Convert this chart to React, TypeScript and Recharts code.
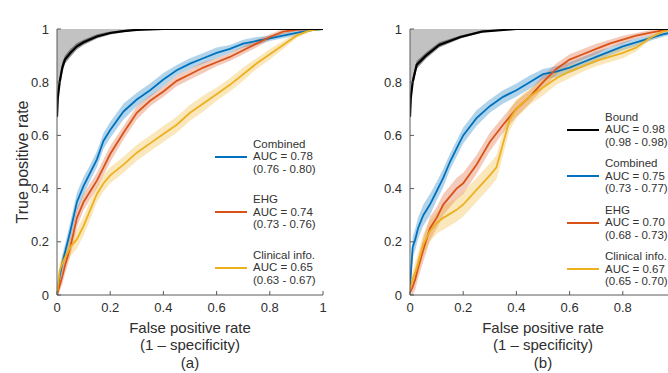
import { ComposedChart, Line, Area, XAxis, YAxis } from 'recharts';

const ticks = [0, 0.2, 0.4, 0.6, 0.8, 1];
const axisColor = '#5a5a5a';
const textColor = '#2e2e2e';
const blue = '#0072BD';
const orange = '#D95319';
const yellow = '#EDB120';
const sans = '"Liberation Sans", Arial, Helvetica, sans-serif';
const narrow = '"Liberation Sans Narrow", "Arial Narrow", "Liberation Sans", sans-serif';

// (a) classification models
const clsFpr = [0, 0.01, 0.02, 0.03, 0.05, 0.075, 0.1, 0.125, 0.15, 0.175, 0.2, 0.25, 0.3, 0.35, 0.4, 0.45, 0.5, 0.55, 0.6, 0.65, 0.7, 0.75, 0.8, 0.85, 0.9, 0.95, 1];
const clsCombined = [0, 0.07, 0.12, 0.16, 0.24, 0.35, 0.41, 0.46, 0.51, 0.58, 0.62, 0.69, 0.735, 0.77, 0.81, 0.845, 0.87, 0.89, 0.91, 0.925, 0.945, 0.955, 0.965, 0.975, 0.985, 0.995, 1];
const clsCombinedCi = [0.01, 0.02, 0.03, 0.03, 0.035, 0.035, 0.035, 0.03, 0.03, 0.03, 0.03, 0.03, 0.025, 0.025, 0.025, 0.02, 0.02, 0.02, 0.02, 0.015, 0.015, 0.015, 0.01, 0.01, 0.01, 0.005, 0];
const clsEhg = [0, 0.035, 0.07, 0.11, 0.18, 0.29, 0.35, 0.39, 0.43, 0.48, 0.53, 0.61, 0.685, 0.73, 0.765, 0.805, 0.83, 0.855, 0.875, 0.895, 0.92, 0.945, 0.97, 0.99, 0.997, 1, 1];
const clsEhgCi = [0.01, 0.02, 0.03, 0.03, 0.035, 0.035, 0.03, 0.03, 0.03, 0.03, 0.03, 0.025, 0.025, 0.02, 0.02, 0.02, 0.02, 0.02, 0.015, 0.015, 0.015, 0.015, 0.01, 0.01, 0.005, 0, 0];
const clsClinical = [0, 0.09, 0.12, 0.14, 0.18, 0.21, 0.26, 0.32, 0.38, 0.42, 0.45, 0.49, 0.535, 0.57, 0.605, 0.64, 0.685, 0.72, 0.755, 0.79, 0.83, 0.87, 0.905, 0.94, 0.975, 0.995, 1];
const clsClinicalCi = [0.01, 0.03, 0.03, 0.03, 0.035, 0.035, 0.035, 0.035, 0.03, 0.03, 0.03, 0.03, 0.03, 0.03, 0.03, 0.03, 0.03, 0.03, 0.025, 0.025, 0.025, 0.02, 0.02, 0.015, 0.01, 0.005, 0];
const clsBoundFpr = [0, 0.003, 0.01, 0.02, 0.03, 0.05, 0.075, 0.1, 0.15, 0.2, 0.25, 0.3, 0.4, 1];
const clsBound = [0.67, 0.74, 0.8, 0.855, 0.885, 0.91, 0.935, 0.95, 0.972, 0.985, 0.992, 0.997, 1, 1];
const clsBoundCi = [0.01, 0.02, 0.02, 0.02, 0.015, 0.015, 0.012, 0.01, 0.008, 0.006, 0.004, 0.002, 0, 0];

// (b) regression models
const regFpr = clsFpr;
const regCombined = [0.03, 0.18, 0.21, 0.25, 0.3, 0.34, 0.39, 0.44, 0.5, 0.55, 0.6, 0.665, 0.71, 0.745, 0.77, 0.8, 0.83, 0.84, 0.855, 0.875, 0.895, 0.915, 0.935, 0.95, 0.965, 0.98, 0.99];
const regCombinedCi = [0.03, 0.04, 0.04, 0.04, 0.04, 0.04, 0.035, 0.035, 0.03, 0.03, 0.03, 0.03, 0.025, 0.025, 0.025, 0.025, 0.02, 0.02, 0.02, 0.02, 0.02, 0.015, 0.015, 0.015, 0.01, 0.01, 0.005];
const regEhg = [0.01, 0.03, 0.06, 0.1, 0.17, 0.25, 0.29, 0.34, 0.37, 0.4, 0.42, 0.49, 0.575, 0.64, 0.7, 0.745, 0.8, 0.85, 0.885, 0.905, 0.925, 0.945, 0.96, 0.975, 0.985, 0.995, 1];
const regEhgCi = [0.02, 0.03, 0.04, 0.04, 0.045, 0.045, 0.04, 0.04, 0.04, 0.04, 0.04, 0.035, 0.035, 0.03, 0.03, 0.025, 0.025, 0.02, 0.02, 0.02, 0.02, 0.015, 0.015, 0.01, 0.01, 0.005, 0];
const regClinicalFpr = [0, 0.01, 0.025, 0.05, 0.075, 0.1, 0.125, 0.15, 0.175, 0.2, 0.25, 0.3, 0.325, 0.35, 0.375, 0.4, 0.45, 0.5, 0.55, 0.6, 0.65, 0.7, 0.75, 0.8, 0.85, 0.9, 0.95, 1];
const regClinical = [0.02, 0.06, 0.1, 0.19, 0.24, 0.27, 0.29, 0.305, 0.32, 0.34, 0.395, 0.45, 0.48, 0.57, 0.66, 0.7, 0.745, 0.78, 0.815, 0.84, 0.86, 0.88, 0.895, 0.91, 0.93, 0.965, 0.99, 1];
const regClinicalCi = [0.02, 0.03, 0.04, 0.04, 0.04, 0.04, 0.045, 0.045, 0.045, 0.045, 0.045, 0.045, 0.045, 0.045, 0.04, 0.035, 0.03, 0.03, 0.025, 0.025, 0.02, 0.02, 0.02, 0.02, 0.015, 0.01, 0.005, 0];
const regBoundFpr = [0, 0.003, 0.01, 0.025, 0.06, 0.11, 0.19, 0.27, 0.4, 1];
const regBound = [0.67, 0.74, 0.8, 0.865, 0.9, 0.94, 0.97, 0.99, 1, 1];
const regBoundCi = [0.01, 0.02, 0.02, 0.015, 0.012, 0.01, 0.006, 0.003, 0, 0];

const clsLegend = [
  { name: 'Combined', auc: '0.78', ci: '0.76 - 0.80', color: blue },
  { name: 'EHG', auc: '0.74', ci: '0.73 - 0.76', color: orange },
  { name: 'Clinical info.', auc: '0.65', ci: '0.63 - 0.67', color: yellow },
];
const regLegend = [
  { name: 'Bound', auc: '0.98', ci: '0.98 - 0.98', color: '#000000' },
  { name: 'Combined', auc: '0.75', ci: '0.73 - 0.77', color: blue },
  { name: 'EHG', auc: '0.70', ci: '0.68 - 0.73', color: orange },
  { name: 'Clinical info.', auc: '0.67', ci: '0.65 - 0.70', color: yellow },
];

const rows = (xs: number[], ys: number[], ci: number[]) =>
  xs.map((x, i) => ({ x, y: ys[i], band: [ys[i] - ci[i], ys[i] + ci[i]], gap: [ys[i], 1] }));

const Title = ({ viewBox, text }: any) => {
  const vb = viewBox || { x: 0, y: 0, width: 0 };
  return (
    <text x={vb.x + vb.width / 2} y={vb.y - 8} textAnchor="middle" fontWeight="bold" fontSize={17} fill="#111">
      {text}
    </text>
  );
};

const XLabel = ({ viewBox, letter }: any) => {
  const vb = viewBox || { x: 0, y: 0, width: 0 };
  const cx = vb.x + vb.width / 2;
  return (
    <text textAnchor="middle" fontSize={15} fill={textColor}>
      <tspan x={cx} y={vb.y + 38}>False positive rate</tspan>
      <tspan x={cx} y={vb.y + 55}>(1 – specificity)</tspan>
      <tspan x={cx} y={vb.y + 73}>({letter})</tspan>
    </text>
  );
};

const YLabel = ({ viewBox }: any) => {
  const vb = viewBox || { x: 0, y: 0, height: 0 };
  const cx = vb.x + 22;
  const cy = vb.y + vb.height / 2;
  return (
    <text x={cx} y={cy} transform={`rotate(-90 ${cx} ${cy})`} textAnchor="middle" dominantBaseline="central" fontSize={16} fill={textColor}>
      True positive rate
    </text>
  );
};

const PanelLegend = ({ entries, left, top, gap }: any) => (
  <div style={{ position: 'absolute', left, top, fontFamily: narrow, fontSize: 11.5, lineHeight: '12.5px', color: '#333' }}>
    {entries.map((e: any, i: number) => (
      <div key={e.name} style={{ display: 'flex', alignItems: 'center', marginTop: i ? gap : 0 }}>
        <svg width={32} height={4} style={{ marginRight: 6 }}>
          <line x1={0} x2={32} y1={2} y2={2} stroke={e.color} strokeWidth={2} />
        </svg>
        <div style={{ whiteSpace: 'nowrap' }}>
          <div>{e.name}</div>
          <div>AUC = {e.auc}</div>
          <div>({e.ci})</div>
        </div>
      </div>
    ))}
  </div>
);

const Panel = ({ left, width, yWidth, title, letter, series, bound, showYLabel, xTicks }: any) => (
  <div style={{ position: 'absolute', left, top: 0 }}>
    <ComposedChart width={width} height={373} margin={{ top: 29, right: 7, bottom: 0, left: 0 }}>
      <XAxis xAxisId="b" type="number" dataKey="x" domain={[0, 1]} ticks={xTicks} allowDataOverflow
        tickSize={-4} tickMargin={12} height={78} stroke={axisColor}
        tick={{ fill: textColor, fontSize: 13 }} tickFormatter={(v: number) => String(v)}
        label={<XLabel letter={letter} />} />
      <XAxis xAxisId="t" orientation="top" type="number" dataKey="x" domain={[0, 1]} ticks={xTicks} allowDataOverflow
        tickSize={-4} height={0} stroke={axisColor} tickFormatter={() => ''} label={<Title text={title} />} />
      <YAxis yAxisId="l" type="number" domain={[0, 1]} ticks={ticks} allowDataOverflow
        tickSize={-4} tickMargin={12} width={yWidth} stroke={axisColor}
        tick={{ fill: textColor, fontSize: 13 }} tickFormatter={(v: number) => String(v)}
        label={showYLabel ? <YLabel /> : undefined} />
      <YAxis yAxisId="r" orientation="right" type="number" domain={[0, 1]} ticks={ticks} allowDataOverflow
        tickSize={-4} width={0} stroke={axisColor} tickFormatter={() => ''} />

      <Area xAxisId="b" yAxisId="l" data={bound} dataKey="gap" type="linear" fill="#c2c2c2" fillOpacity={1} stroke="none" isAnimationActive={false} />
      <Area xAxisId="b" yAxisId="l" data={bound} dataKey="band" type="linear" fill="#3a3a3a" fillOpacity={0.55} stroke="none" isAnimationActive={false} />
      {series.map((s: any) => (
        <Area key={s.color + 'band'} xAxisId="b" yAxisId="l" data={s.data} dataKey="band" type="linear"
          fill={s.color} fillOpacity={0.3} stroke="none" isAnimationActive={false} />
      ))}
      {series.map((s: any) => (
        <Line key={s.color} xAxisId="b" yAxisId="l" data={s.data} dataKey="y" type="linear"
          stroke={s.color} strokeWidth={1.8} dot={false} isAnimationActive={false} />
      ))}
      <Line xAxisId="b" yAxisId="l" data={bound} dataKey="y" type="linear" stroke="#000" strokeWidth={2.2} dot={false} isAnimationActive={false} />
    </ComposedChart>
  </div>
);

export default function App() {
  const clsSeries = [
    { color: blue, data: rows(clsFpr, clsCombined, clsCombinedCi) },
    { color: orange, data: rows(clsFpr, clsEhg, clsEhgCi) },
    { color: yellow, data: rows(clsFpr, clsClinical, clsClinicalCi) },
  ];
  const regSeries = [
    { color: blue, data: rows(regFpr, regCombined, regCombinedCi) },
    { color: orange, data: rows(regFpr, regEhg, regEhgCi) },
    { color: yellow, data: rows(regClinicalFpr, regClinical, regClinicalCi) },
  ];
  return (
    <div style={{ position: 'absolute', left: 0, top: 0, width: 668, height: 373, overflow: 'hidden', background: '#fff', fontFamily: sans }}>
      <Panel left={0} width={330} yWidth={57} title="Classification models" letter="a" showYLabel xTicks={ticks}
        series={clsSeries} bound={rows(clsBoundFpr, clsBound, clsBoundCi)} />
      {/* panel b runs past the right edge of the page, so its x = 1 tick is off-screen */}
      <Panel left={345} width={338} yWidth={65} title="Regression models" letter="b" xTicks={ticks.slice(0, 5)}
        series={regSeries} bound={rows(regBoundFpr, regBound, regBoundCi)} />
      <PanelLegend entries={clsLegend} left={215} top={137.75} gap={18} />
      <PanelLegend entries={regLegend} left={567} top={110.75} gap={9} />
    </div>
  );
}
